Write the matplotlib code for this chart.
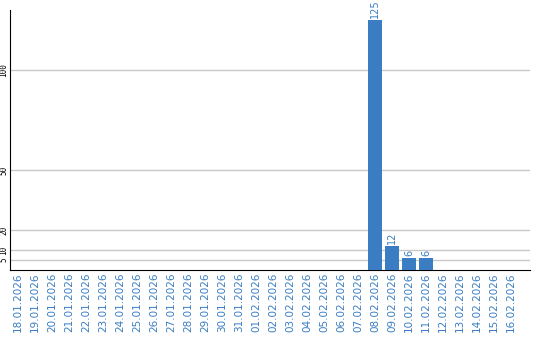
import matplotlib
matplotlib.use("Agg")
import matplotlib.pyplot as plt

dates = ["18.01.2026", "19.01.2026", "20.01.2026", "21.01.2026", "22.01.2026",
         "23.01.2026", "24.01.2026", "25.01.2026", "26.01.2026", "27.01.2026",
         "28.01.2026", "29.01.2026", "30.01.2026", "31.01.2026", "01.02.2026",
         "02.02.2026", "03.02.2026", "04.02.2026", "05.02.2026", "06.02.2026",
         "07.02.2026", "08.02.2026", "09.02.2026", "10.02.2026", "11.02.2026",
         "12.02.2026", "13.02.2026", "14.02.2026", "15.02.2026", "16.02.2026"]
counts = [0] * 21 + [125, 12, 6, 6] + [0] * 5
yticks = [5, 10, 20, 50, 100]

blue = "#3a7dc2"

fig = plt.figure(figsize=(5.4, 3.4), dpi=100)
ax = fig.add_axes([10 / 540, 70 / 340, 520 / 540, 260 / 340])

x = list(range(len(dates)))
ax.bar(x, counts, width=0.82, color=blue, zorder=3)
for i, v in enumerate(counts):
    if v > 0:
        ax.text(i, v + 0.8, str(v), rotation=90, ha="center", va="bottom",
                color=blue, fontsize=7)

ax.set_xlim(-0.47, 30.1)
ax.set_ylim(0, 130)
ax.set_yticks(yticks)
ax.set_yticklabels([str(t) for t in yticks], rotation=90, va="center",
                   fontsize=5.5, family="DejaVu Sans Mono")
ax.set_xticks(x)
ax.set_xticklabels(dates, rotation=90, fontsize=7.5, color=blue)
ax.tick_params(length=0, pad=2)
ax.tick_params(axis="y", pad=1)
ax.grid(axis="y", color="#c8c8c8", linewidth=1, zorder=0)
for s in ["top", "right"]:
    ax.spines[s].set_visible(False)
ax.spines["left"].set_color("black")
ax.spines["bottom"].set_color("black")

fig.savefig("out.png", dpi=100)
